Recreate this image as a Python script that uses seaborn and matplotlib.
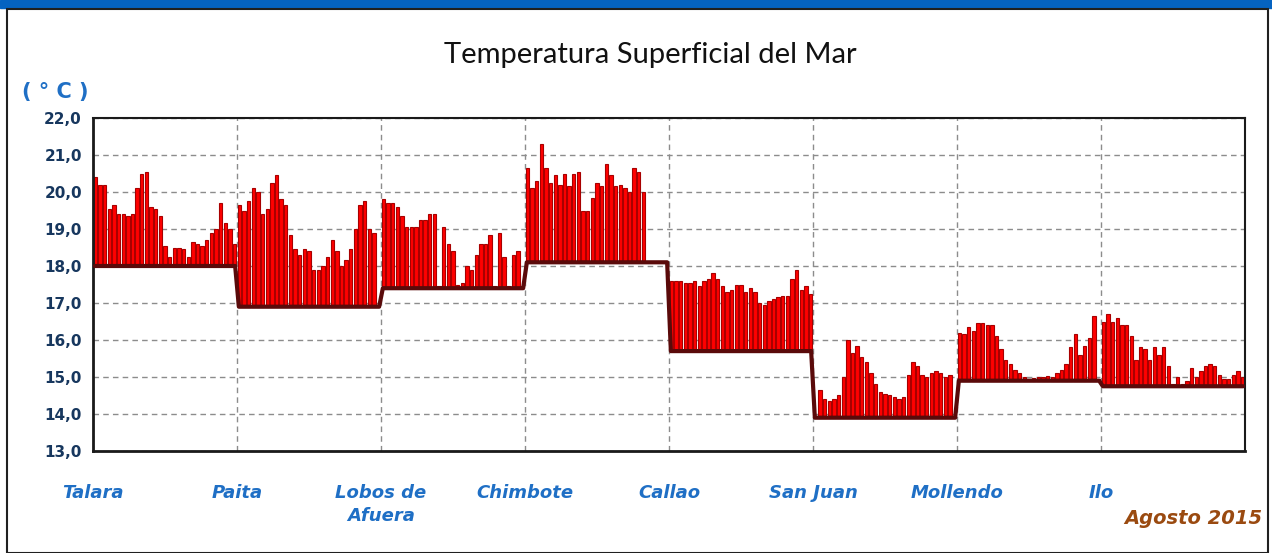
import numpy as np
import pandas as pd
import matplotlib
matplotlib.use('Agg')
import matplotlib.pyplot as plt
import seaborn as sns
from matplotlib.patches import Rectangle

nan = np.nan

stations = ['Talara', 'Paita', 'Lobos de\nAfuera', 'Chimbote', 'Callao', 'San Juan', 'Mollendo', 'Ilo']
normals = [18.0, 16.9, 17.4, 18.1, 15.7, 13.9, 14.9, 14.75]

# daily SST, August 2015 (one value per day, nan = no data)
talara = [20.4, 20.2, 20.2, 19.55, 19.65, 19.4, 19.4, 19.35, 19.4, 20.1, 20.5, 20.55, 19.6, 19.55, 19.35, 18.55,
          18.25, 18.5, 18.5, 18.45, 18.25, 18.65, 18.6, 18.55, 18.7, 18.9, 19.0, 19.7, 19.15, 19.0, 18.6]
paita = [19.65, 19.5, 19.75, 20.1, 20.0, 19.4, 19.55, 20.25, 20.45, 19.8, 19.65, 18.85, 18.45, 18.3, 18.45, 18.4,
         17.9, 17.9, 18.0, 18.25, 18.7, 18.4, 18.0, 18.15, 18.45, 19.0, 19.65, 19.75, 19.0, 18.9, nan]
lobos = [19.8, 19.7, 19.7, 19.6, 19.35, 19.05, 19.05, 19.05, 19.25, 19.25, 19.4, 19.4, 17.45, 19.05, 18.6, 18.4,
         17.5, 17.55, 18.0, 17.9, 18.3, 18.6, 18.6, 18.85, 17.45, 18.9, 18.25, 17.45, 18.3, 18.4, 17.45]
chimbote = [20.65, 20.1, 20.3, 21.3, 20.65, 20.25, 20.45, 20.2, 20.5, 20.15, 20.5, 20.55, 19.5, 19.5, 19.85, 20.25,
            20.15, 20.75, 20.45, 20.15, 20.2, 20.1, 20.0, 20.65, 20.55, 20.0, nan, nan, nan, nan, nan]
callao = [17.6, 17.6, 17.6, 17.55, 17.55, 17.6, 17.45, 17.6, 17.65, 17.8, 17.65, 17.45, 17.3, 17.35, 17.5, 17.5,
          17.3, 17.4, 17.3, 17.0, 16.95, 17.05, 17.1, 17.15, 17.2, 17.2, 17.65, 17.9, 17.35, 17.45, 17.25]
san_juan = [nan, 14.65, 14.4, 14.35, 14.4, 14.5, 15.0, 16.0, 15.65, 15.85, 15.55, 15.4, 15.1, 14.8, 14.6, 14.55,
            14.5, 14.45, 14.4, 14.45, 15.05, 15.4, 15.3, 15.05, 15.0, 15.1, 15.15, 15.1, 15.0, 15.05, nan]
mollendo = [16.2, 16.15, 16.35, 16.25, 16.45, 16.45, 16.4, 16.4, 16.1, 15.75, 15.45, 15.35, 15.2, 15.1, 15.0, 14.88,
            14.97, 15.0, 15.0, 15.03, 15.0, 15.1, 15.2, 15.35, 15.8, 16.15, 15.6, 15.85, 16.05, 16.65, 14.95]
ilo = [16.5, 16.7, 16.5, 16.6, 16.4, 16.4, 16.1, 15.45, 15.8, 15.75, 15.45, 15.8, 15.6, 15.8, 15.3, 14.8,
       15.0, 14.8, 14.9, 15.25, 15.0, 15.15, 15.3, 15.35, 15.3, 15.05, 14.95, 14.95, 15.05, 15.15, 15.0]

series = [talara, paita, lobos, chimbote, callao, san_juan, mollendo, ilo]
ndays = 31

rows = []
for i, (name, vals) in enumerate(zip(stations, series)):
    for d, v in enumerate(vals):
        rows.append({'station': name, 'x': i * ndays + d + 0.5, 'tsm': v, 'normal': normals[i]})
df = pd.DataFrame(rows).dropna()

base = pd.DataFrame({
    'x': [p for i in range(len(stations)) for p in (i * ndays + 0.4, (i + 1) * ndays - 0.4)],
    'y': [normals[i] for i in range(len(stations)) for _ in range(2)],
})

sns.set_style('white')
plt.rcParams['font.family'] = ['DejaVu Sans']

fig = plt.figure(figsize=(12.72, 5.53), dpi=100)
fig.patches.append(Rectangle((0, 1 - 8 / 553), 1, 8 / 553, transform=fig.transFigure,
                             color='#0563C1', zorder=0))
fig.patches.append(Rectangle((7 / 1272, 0), 1 - 11 / 1272, 1 - 9 / 553, transform=fig.transFigure,
                             fill=False, edgecolor='#202020', linewidth=1.5, zorder=0))

ax = fig.add_axes([93 / 1272, 1 - 451 / 553, 1152 / 1272, 333 / 553])

ax.bar(df['x'], df['tsm'] - df['normal'], bottom=df['normal'], width=0.72,
       color='#FF0000', edgecolor='#A80000', linewidth=0.8, zorder=2)
sns.lineplot(data=base, x='x', y='y', color='#5A0A0A', linewidth=3, estimator=None,
             sort=False, ax=ax, zorder=3)

ax.set_xlim(0, ndays * len(stations))
ax.set_ylim(13, 22)
ax.set_yticks(np.arange(13, 23, 1))
ax.set_yticklabels([f'{v:.1f}'.replace('.', ',') for v in np.arange(13, 23, 1)],
                   fontsize=11, fontweight='bold', color='#17375E')
ax.set_xticks(np.arange(len(stations)) * ndays)
ax.set_xticklabels(stations, fontsize=13, fontweight='bold', fontstyle='italic',
                   color='#1F6FC5', linespacing=1.3)
ax.tick_params(axis='x', length=4, pad=20, color='#404040')
ax.tick_params(axis='y', length=4, pad=4, color='#404040')
ax.grid(True, linestyle=(0, (4, 3)), color='#8C8C8C', linewidth=1)
ax.set_axisbelow(True)
ax.set_xlabel('')
ax.set_ylabel('')
for side, sp in ax.spines.items():
    sp.set_color('#1A1A1A')
    sp.set_linewidth(1.5)
ax.spines['bottom'].set_linewidth(2)
ax.spines['left'].set_linewidth(2)

fig.text(0.511, 1 - 55 / 553, 'Temperatura Superficial del Mar', ha='center', va='center',
         fontsize=21, color='#111111', family='Lato')
fig.text(22 / 1272, 1 - 92 / 553, '( ° C )', ha='left', va='center', fontsize=15,
         fontweight='bold', color='#1F6FC5')
fig.text(1262 / 1272, 1 - 518 / 553, 'Agosto 2015', ha='right', va='center', fontsize=14,
         fontweight='bold', fontstyle='italic', color='#9A4A10')

fig.savefig('out.png', dpi=100)
